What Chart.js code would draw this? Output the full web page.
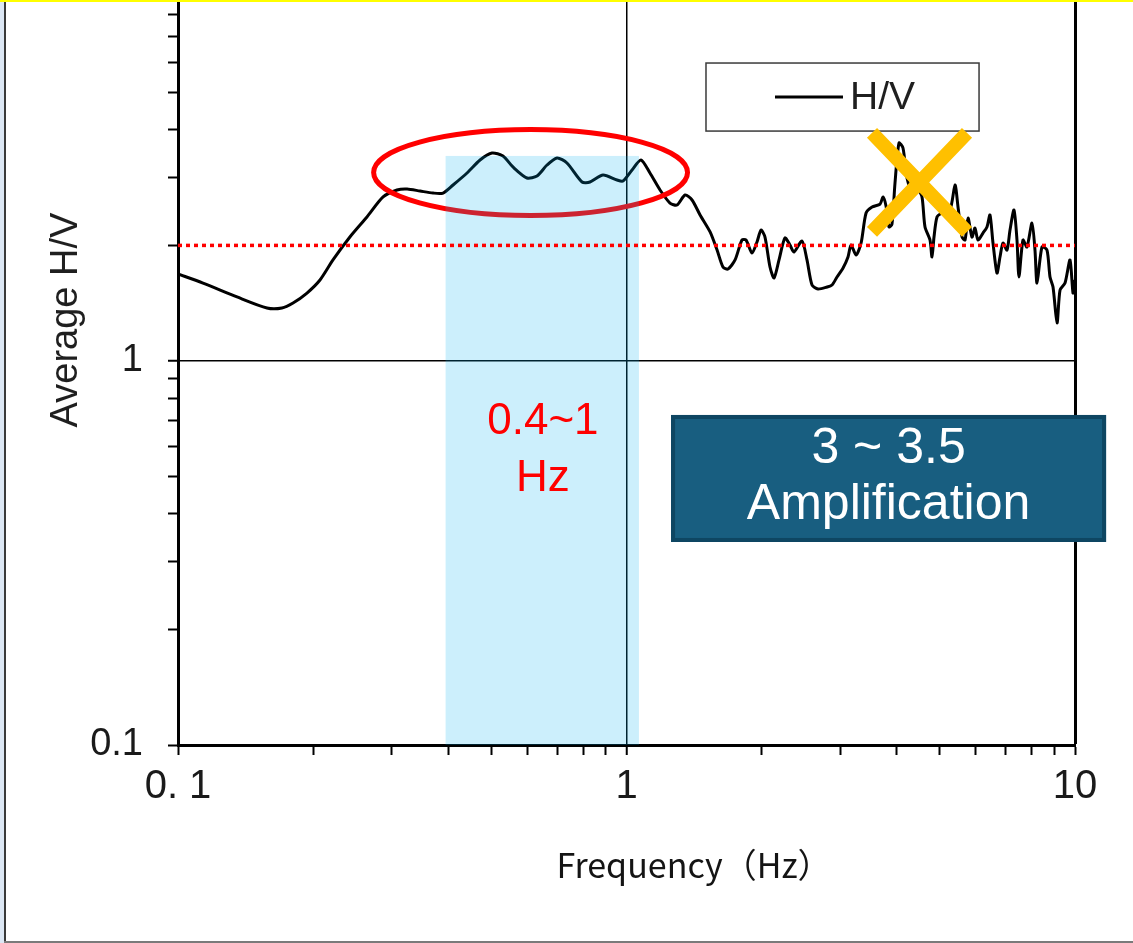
<!DOCTYPE html>
<html>
<head>
<meta charset="utf-8">
<script src="https://cdn.jsdelivr.net/npm/chart.js@4.4.1/dist/chart.umd.min.js"></script>
<style>
  html, body { margin: 0; padding: 0; background: #fff; width: 1133px; height: 943px; overflow: hidden; position: relative; }
  #wrap { position: absolute; left: 0; top: -30px; width: 1133px; height: 973px; }
  #leftStrip { position: absolute; left: 0; top: 0; width: 4px; height: 943px; background: #dce7f4; z-index: 2; }
  #leftLine { position: absolute; left: 4px; top: 0; width: 2px; height: 943px; background: #3a3a3a; z-index: 2; }
  #bottomLine { position: absolute; left: 4px; top: 941px; width: 1129px; height: 2px; background: #7a7a7a; z-index: 2; }
  #topLine { position: absolute; left: 0; top: 0; width: 1133px; height: 2px; background: #ffff00; z-index: 3; }
</style>
</head>
<body>
<div id="wrap"><canvas id="chart" width="1133" height="973"></canvas></div>
<div id="leftStrip"></div><div id="leftLine"></div><div id="bottomLine"></div><div id="topLine"></div>
<script>
// ---- data ----
const freqHz = [0.1, 0.1137, 0.1354, 0.1579, 0.1705, 0.1805, 0.1939, 0.2073, 0.2216, 0.2417,
  0.2638, 0.2866, 0.3078, 0.3242, 0.3465, 0.3704, 0.39, 0.4105, 0.441, 0.4715,
  0.5013, 0.5304, 0.5582, 0.5999, 0.6316, 0.6649, 0.7002, 0.7366, 0.796, 0.8291,
  0.8866, 0.9526, 0.9822, 1.029, 1.077, 1.128, 1.188, 1.25, 1.296, 1.351,
  1.4, 1.459, 1.536, 1.592, 1.641, 1.684, 1.746, 1.809, 1.847, 1.905,
  1.954, 1.995, 2.036, 2.089, 2.133, 2.188, 2.256, 2.315, 2.363, 2.462,
  2.526, 2.592, 2.673, 2.8, 2.872, 2.947, 3.04, 3.118, 3.167, 3.25,
  3.335, 3.421, 3.528, 3.676, 3.733, 3.79, 3.849, 3.908, 3.969, 4.051,
  4.135, 4.221, 4.353, 4.467, 4.559, 4.63, 4.75, 4.799, 4.849, 4.924,
  5.052, 5.264, 5.401, 5.485, 5.599, 5.686, 5.774, 5.893, 5.984, 6.077,
  6.235, 6.364, 6.463, 6.564, 6.7, 6.804, 6.91, 7.053, 7.163, 7.311,
  7.424, 7.5, 7.656, 7.814, 8.019, 8.143, 8.228, 8.442, 8.661, 8.796,
  8.933, 9.119, 9.261, 9.5, 9.748, 9.899, 10];
const avgHV = [1.685, 1.596, 1.468, 1.374, 1.374, 1.416, 1.503, 1.625, 1.833, 2.103,
  2.371, 2.674, 2.788, 2.805, 2.771, 2.738, 2.738, 2.873, 3.087, 3.338,
  3.48, 3.419, 3.201, 2.996, 3.032, 3.239, 3.379, 3.278, 2.925, 2.925,
  3.05, 2.96, 2.943, 3.144, 3.338, 3.087, 2.788, 2.579, 2.548, 2.706,
  2.626, 2.4, 2.168, 1.945, 1.757, 1.736, 1.833, 2.066, 2.066, 1.91,
  2.041, 2.193, 2.103, 1.757, 1.645, 1.833, 2.091, 2.005, 1.922, 2.054,
  1.833, 1.577, 1.54, 1.558, 1.577, 1.655, 1.747, 1.866, 2.005, 1.888,
  2.029, 2.429, 2.518, 2.563, 2.674, 2.533, 2.234, 2.274, 2.908, 3.696,
  3.587, 2.996, 2.706, 2.788, 2.674, 2.234, 2.066, 1.866, 2.103, 2.371,
  2.429, 2.473, 2.873, 2.518, 2.103, 2.066, 2.357, 2.103, 2.22, 2.066,
  2.154, 2.234, 2.4, 2.029, 1.695, 1.866, 2.029, 1.945, 2.193, 2.473,
  2.066, 1.655, 2.066, 1.981, 2.287, 1.945, 1.596, 1.981, 1.945, 1.655,
  1.558, 1.256, 1.531, 1.596, 1.833, 1.503, 1.625];
const seriesLabel = 'H/V';
const thresholdFreq = [0.1, 10];
const thresholdHV = 2;

const xTickValues = [0.1,0.2,0.3,0.4,0.5,0.6,0.7,0.8,0.9,1,2,3,4,5,6,7,8,9,10];
const xLabelValues = [0.1, 1, 10];
const xLabelTexts = ['0. 1', '1', '10'];
const yTickValues = [0.1,0.2,0.3,0.4,0.5,0.6,0.7,0.8,0.9,1,2,3,4,5,6,7,8,9,10];
const yLabelValues = [0.1, 1];
const yLabelTexts = ['0.1', '1'];
const xTitle = 'Frequency（Hz）';
const yTitle = 'Average H/V';

// annotation anchors (data units)
const bandFreq = [0.395, 1.066];
const bandTop = 3.42;
const bandText = ['0.4~1', 'Hz'];
const bandTextAt = { x: 0.651, y: [0.694, 0.493] };
const ellipseFreq = [0.273, 1.368];
const ellipseHV = [2.393, 4.008];
const crossFreq = [3.527, 5.744];
const crossHV = [2.168, 3.925];
const legendFreq = [1.504, 6.11];
const legendHV = [3.97, 5.97];
const noteFreq = [1.257, 11.73];
const noteHV = [0.3378, 0.7235];
const noteText = ['3 ~ 3.5', 'Amplification'];

const near = (a, b) => Math.abs(a - b) < 1e-9;
const NARROW = '"Liberation Sans Narrow", "Arial Narrow", "Liberation Sans", Arial, sans-serif';

const overlayPlugin = {
  id: 'overlays',
  afterDatasetDraw(chart, args) {
    if (args.index !== 0) return;
    const { ctx, chartArea } = chart;
    const x = chart.scales.x, y = chart.scales.y;
    ctx.save();
    const ex1 = x.getPixelForValue(ellipseFreq[0]), ex2 = x.getPixelForValue(ellipseFreq[1]);
    const ey1 = y.getPixelForValue(ellipseHV[1]), ey2 = y.getPixelForValue(ellipseHV[0]);
    ctx.beginPath();
    ctx.ellipse((ex1 + ex2) / 2, (ey1 + ey2) / 2, (ex2 - ex1) / 2, (ey2 - ey1) / 2, 0, 0, Math.PI * 2);
    ctx.strokeStyle = '#FF0000';
    ctx.lineWidth = 5;
    ctx.stroke();
    const bx1 = x.getPixelForValue(bandFreq[0]), bx2 = x.getPixelForValue(bandFreq[1]);
    const by1 = y.getPixelForValue(bandTop);
    ctx.fillStyle = 'rgba(0,176,240,0.2)';
    ctx.fillRect(bx1, by1, bx2 - bx1, chartArea.bottom - by1);
    ctx.restore();
  },
  afterDatasetsDraw(chart) {
    const { ctx } = chart;
    const x = chart.scales.x, y = chart.scales.y;
    ctx.save();
    ctx.fillStyle = '#FF0000';
    ctx.font = '44px "Liberation Sans", Arial, sans-serif';
    ctx.textAlign = 'center';
    ctx.textBaseline = 'middle';
    bandText.forEach((t, i) => ctx.fillText(t, x.getPixelForValue(bandTextAt.x), y.getPixelForValue(bandTextAt.y[i])));

    const lx1 = x.getPixelForValue(legendFreq[0]), lx2 = x.getPixelForValue(legendFreq[1]);
    const ly1 = y.getPixelForValue(legendHV[1]), ly2 = y.getPixelForValue(legendHV[0]);
    ctx.fillStyle = '#fff';
    ctx.fillRect(lx1, ly1, lx2 - lx1, ly2 - ly1);
    ctx.strokeStyle = '#3a3a3a';
    ctx.lineWidth = 1.5;
    ctx.strokeRect(lx1, ly1, lx2 - lx1, ly2 - ly1);
    const ds = chart.data.datasets[0];
    const lmid = (ly1 + ly2) / 2;
    ctx.beginPath();
    ctx.moveTo(lx1 + 69, lmid);
    ctx.lineTo(lx1 + 137, lmid);
    ctx.strokeStyle = ds.borderColor;
    ctx.lineWidth = 3;
    ctx.stroke();
    ctx.fillStyle = '#1f1f1f';
    ctx.font = '39px "Liberation Sans", Arial, sans-serif';
    ctx.textAlign = 'left';
    ctx.textBaseline = 'middle';
    ctx.fillText(ds.label, lx1 + 144, lmid + 1);

    const cx1 = x.getPixelForValue(crossFreq[0]), cx2 = x.getPixelForValue(crossFreq[1]);
    const cy1 = y.getPixelForValue(crossHV[1]), cy2 = y.getPixelForValue(crossHV[0]);
    ctx.strokeStyle = '#FFC000';
    ctx.lineWidth = 14;
    ctx.lineCap = 'butt';
    ctx.beginPath();
    ctx.moveTo(cx1, cy1); ctx.lineTo(cx2, cy2);
    ctx.moveTo(cx2, cy1); ctx.lineTo(cx1, cy2);
    ctx.stroke();

    const nx1 = x.getPixelForValue(noteFreq[0]), nx2 = x.getPixelForValue(noteFreq[1]);
    const ny1 = y.getPixelForValue(noteHV[1]), ny2 = y.getPixelForValue(noteHV[0]);
    ctx.fillStyle = '#185E80';
    ctx.fillRect(nx1, ny1, nx2 - nx1, ny2 - ny1);
    ctx.strokeStyle = '#0E4662';
    ctx.lineWidth = 4;
    ctx.strokeRect(nx1 + 2, ny1 + 2, nx2 - nx1 - 4, ny2 - ny1 - 4);
    ctx.fillStyle = '#ffffff';
    ctx.font = '50px "Liberation Sans", Arial, sans-serif';
    ctx.textAlign = 'center';
    ctx.textBaseline = 'middle';
    const ncx = (nx1 + nx2) / 2;
    ctx.fillText(noteText[0], ncx, ny1 + 34);
    ctx.fillText(noteText[1], ncx, ny1 + 90);
    ctx.restore();
  },
  afterDraw(chart) {
    const { ctx } = chart;
    ctx.save();
    ctx.fillStyle = '#1f1f1f';
    ctx.textAlign = 'center';
    ctx.textBaseline = 'middle';
    ctx.font = '38px "Liberation Sans", Arial, sans-serif';
    ctx.translate(67, 350);
    ctx.rotate(-Math.PI / 2);
    ctx.fillText(chart.options.scales.y.title.text, 0, 0);
    ctx.restore();
    ctx.save();
    ctx.fillStyle = '#141414';
    ctx.textAlign = 'center';
    ctx.textBaseline = 'middle';
    ctx.font = '34px "Noto Sans CJK JP", sans-serif';
    ctx.fillText(chart.options.scales.x.title.text, 694, 895);
    ctx.restore();
  }
};

const gridStyleX = (c) => {
  const v = c.tick ? c.tick.value : null;
  if (v !== null && near(v, 1)) return { color: '#000', width: 1.5 };
  if (v !== null && near(v, 10)) return { color: '#000', width: 3 };
  return { color: 'rgba(0,0,0,0)', width: 1 };
};
const gridStyleY = (c) => {
  const v = c.tick ? c.tick.value : null;
  if (v !== null && near(v, 1)) return { color: '#000', width: 1.5 };
  return { color: 'rgba(0,0,0,0)', width: 1 };
};

new Chart(document.getElementById('chart'), {
  type: 'line',
  data: {
    datasets: [
      {
        label: seriesLabel,
        data: freqHz.map((f, i) => ({ x: f, y: avgHV[i] })),
        borderColor: '#000000',
        borderWidth: 3,
        pointRadius: 0,
        tension: 0.25,
        fill: false,
        order: 2
      },
      {
        label: 'threshold',
        data: thresholdFreq.map(f => ({ x: f, y: thresholdHV })),
        borderColor: '#FF0000',
        borderWidth: 3.5,
        borderDash: [4, 4],
        borderCapStyle: 'butt',
        pointRadius: 0,
        fill: false,
        order: 1
      }
    ]
  },
  options: {
    responsive: false,
    animation: false,
    devicePixelRatio: 1,
    layout: { padding: { top: 7, right: 58, bottom: 0, left: 0 } },
    plugins: { legend: { display: false }, tooltip: { enabled: false } },
    scales: {
      x: {
        type: 'logarithmic',
        min: 0.1, max: 10,
        afterBuildTicks: (s) => { s.ticks = xTickValues.map(v => ({ value: v })); },
        afterFit: (s) => { s.height = 198; s.paddingLeft = 0; s.paddingRight = 0; },
        grid: {
          color: (c) => gridStyleX(c).color,
          lineWidth: (c) => gridStyleX(c).width,
          drawTicks: true, tickLength: 10, tickWidth: 2, tickColor: '#000'
        },
        border: { display: true, color: '#000', width: 3 },
        title: { display: false, text: xTitle },
        ticks: {
          autoSkip: false, maxRotation: 0, minRotation: 0, padding: 8,
          color: '#1a1a1a',
          font: { family: NARROW, size: 40 },
          callback: (v) => { const i = xLabelValues.findIndex(t => near(t, v)); return i >= 0 ? xLabelTexts[i] : ''; }
        }
      },
      y: {
        type: 'logarithmic',
        min: 0.1, max: 10,
        afterBuildTicks: (s) => { s.ticks = yTickValues.map(v => ({ value: v })); },
        afterFit: (s) => { s.width = 178; s.paddingTop = 0; s.paddingBottom = 0; },
        grid: {
          color: (c) => gridStyleY(c).color,
          lineWidth: (c) => gridStyleY(c).width,
          drawTicks: true, tickLength: 10, tickWidth: 2, tickColor: '#000'
        },
        border: { display: true, color: '#000', width: 3 },
        title: { display: false, text: yTitle },
        ticks: {
          autoSkip: false, padding: 25,
          color: '#1a1a1a',
          font: { family: NARROW, size: 38 },
          callback: (v) => { const i = yLabelValues.findIndex(t => near(t, v)); return i >= 0 ? yLabelTexts[i] : ''; }
        }
      }
    }
  },
  plugins: [overlayPlugin]
});
</script>
</body>
</html>
